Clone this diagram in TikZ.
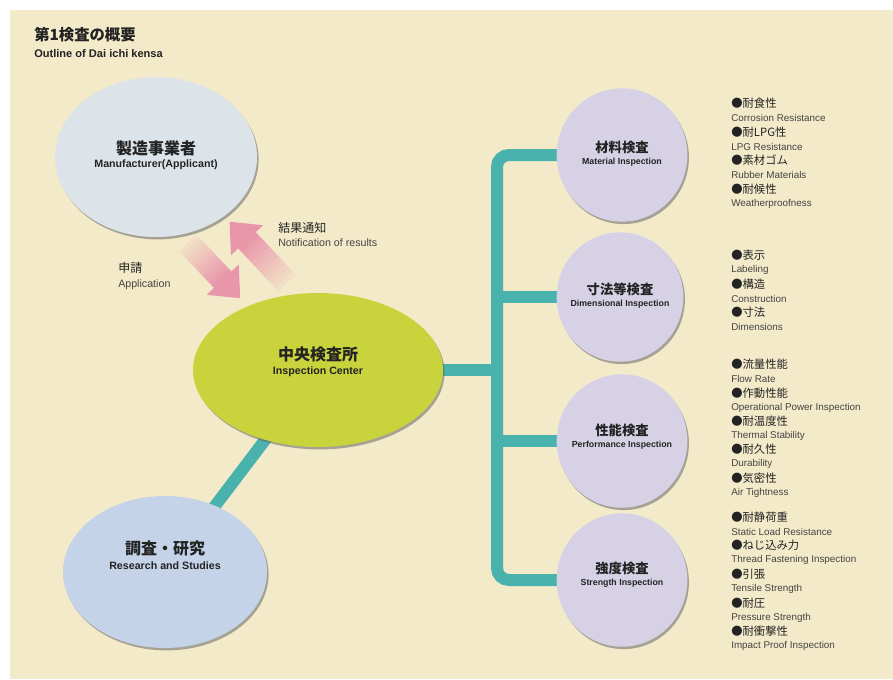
\documentclass[tikz,border=0pt]{standalone}
\usepackage{fontspec}
\setmainfont{Liberation Sans}
\newfontfamily\jp{Noto Sans CJK JP}
\usetikzlibrary{shapes.geometric,shadows}
\pgfdeclarelayer{back}
\pgfdeclarelayer{bg}
\pgfsetlayers{back,bg,main}
\definecolor{cream}{RGB}{243,234,202}
\definecolor{mfgc}{RGB}{221,228,233}
\definecolor{ctrc}{RGB}{201,211,60}
\definecolor{resc}{RGB}{197,211,232}
\definecolor{insc}{RGB}{215,209,230}
\definecolor{tealc}{RGB}{74,178,172}
\definecolor{pinkA}{RGB}{232,142,167}
\definecolor{txt}{RGB}{35,35,35}
\tikzset{
  ell/.style={ellipse, inner sep=0pt, draw=none,
    drop shadow={shadow xshift=1.2pt, shadow yshift=-1.8pt, fill=black!60, opacity=.55}},
  bigjp/.style={font=\jp\bfseries\fontsize{12}{14}\selectfont, text=txt, inner sep=0pt},
  bigen/.style={font=\bfseries\fontsize{8}{10}\selectfont, text=txt, inner sep=0pt},
  smjp/.style={font=\jp\bfseries\fontsize{10}{12}\selectfont, text=txt, inner sep=0pt},
  smen/.style={font=\bfseries\fontsize{6.6}{8}\selectfont, text=txt, inner sep=0pt},
  lijp/.style={font=\jp\fontsize{8.5}{10}\selectfont, text=txt, anchor=west, inner sep=0pt},
  lien/.style={font=\fontsize{7.4}{9}\selectfont, text=txt!85, anchor=west, inner sep=0pt},
  tl/.style={draw=tealc, line width=9pt},
}
\newcommand\blockarrow[4]{%
  \begin{scope}[shift={(#1,#2)}, rotate=#3]
    \foreach \k [evaluate=\k as \pct using int(\k*7+12)] in {0,...,11}
      \fill[pinkA!\pct!cream] ({\k*(#4-25)/12},-12) rectangle ({(\k+1)*(#4-25)/12+0.6},12);
    \fill[pinkA!92!cream] (#4-25.5,-12) -- (#4-25.5,-22) -- (#4,0) -- (#4-25.5,22) -- (#4-25.5,12) -- cycle;
  \end{scope}}
\begin{document}
\begin{tikzpicture}[x=0.75pt,y=-0.75pt]
\useasboundingbox (0,0) rectangle (893,679);
\begin{pgfonlayer}{back}
\fill[white] (0,0) rectangle (893,679);
\fill[cream] (10,10) rectangle (893,679);
\end{pgfonlayer}

% title
\node[font=\jp\bfseries\fontsize{11.5}{13}\selectfont, text=txt, anchor=west, inner sep=0pt] (t1) at (34,35) {第1検査の概要};
\node[font=\bfseries\fontsize{8.3}{10}\selectfont, text=txt, anchor=west, inner sep=0pt] (t2) at (34,54) {Outline of Dai ichi kensa};

% main ellipses
\node[ell, fill=mfgc, minimum width=151.5pt, minimum height=120pt] (mfg) at (156,157) {};
\node[ell, fill=ctrc, minimum width=187.5pt, minimum height=115.5pt] (ctr) at (318,370) {};
\node[ell, fill=resc, minimum width=153pt, minimum height=114pt] (res) at (165,572) {};

\node[bigjp] (mfgj) at (156,148) {製造事業者};
\node[bigen] (mfge) at (156,165) {Manufacturer(Applicant)};
\node[bigjp] (ctrj) at (318,354) {中央検査所};
\node[bigen] (ctre) at (318,372) {Inspection Center};
\node[bigjp] (resj) at (165,548) {調査・研究};
\node[bigen] (rese) at (165,566) {Research and Studies};

% inspection ellipses
\node[ell, fill=insc, minimum width=98pt, minimum height=100pt] (mat) at (622,155) {};
\node[ell, fill=insc, minimum width=95pt, minimum height=97pt] (dim) at (620,297) {};
\node[ell, fill=insc, minimum width=98pt, minimum height=100pt] (prf) at (622,441) {};
\node[ell, fill=insc, minimum width=98pt, minimum height=100pt] (str) at (622,580) {};

\node[smjp] (matj) at (622,147) {材料検査};
\node[smen] (mate) at (622,162) {Material Inspection};
\node[smjp] (dimj) at (620,289) {寸法等検査};
\node[smen] (dime) at (620,304) {Dimensional Inspection};
\node[smjp] (prfj) at (622,430) {性能検査};
\node[smen] (prfe) at (622,445) {Performance Inspection};
\node[smjp] (strj) at (622,568) {強度検査};
\node[smen] (stre) at (622,583) {Strength Inspection};

% connectors
\coordinate (bus) at (497,0);
\begin{pgfonlayer}{bg}
  \draw[tl, rounded corners=9pt] (mat.center) -- (mat.center -| bus) -- (str.center -| bus) -- (str.center);
  \draw[tl] (dim.center) -- (dim.center -| bus);
  \draw[tl] (prf.center) -- (prf.center -| bus);
  \draw[tl] (ctr.center) -- (ctr.center -| bus);
  \draw[tl] (ctr.center) -- (res.center);
\end{pgfonlayer}

% arrows
\blockarrow{188}{243}{-46.6}{76}
\blockarrow{287}{283}{133.1}{84}
\node[lijp, font=\jp\fontsize{9}{10}\selectfont] (appj) at (118,268) {申請};
\node[lien, font=\fontsize{8}{9}\selectfont] (appe) at (118,285) {Application};
\node[lijp, font=\jp\fontsize{9}{10}\selectfont] (notj) at (278,228) {結果通知};
\node[lien, font=\fontsize{8}{9}\selectfont] (note) at (278,243) {Notification of results};

% lists
\foreach \y/\j/\e [count=\i] in {103/耐食性/Corrosion Resistance, 132/耐LPG性/LPG Resistance, 160/素材ゴム/Rubber Materials, 189/耐候性/Weatherproofness}{
  \node[lijp] (ma\i) at (731,\y) {●\j};
  \node[lien] (mb\i) at (731,\y+14.5) {\e};}
\foreach \y/\j/\e [count=\i] in {255/表示/Labeling, 284/構造/Construction, 312/寸法/Dimensions}{
  \node[lijp] (da\i) at (731,\y) {●\j};
  \node[lien] (db\i) at (731,\y+14.5) {\e};}
\foreach \y/\j/\e [count=\i] in {364/流量性能/Flow Rate, 393/作動性能/Operational Power Inspection, 421/耐温度性/Thermal Stability, 449/耐久性/Durability, 478/気密性/Air Tightness}{
  \node[lijp] (pa\i) at (731,\y) {●\j};
  \node[lien] (pb\i) at (731,\y+14.5) {\e};}
\foreach \y/\j/\e [count=\i] in {517/耐静荷重/Static Load Resistance, 545/ねじ込み力/Thread Fastening Inspection, 574/引張/Tensile Strength, 603/耐圧/Pressure Strength, 631/耐衝撃性/Impact Proof Inspection}{
  \node[lijp] (sa\i) at (731,\y) {●\j};
  \node[lien] (sb\i) at (731,\y+14.5) {\e};}
\end{tikzpicture}
\end{document}
